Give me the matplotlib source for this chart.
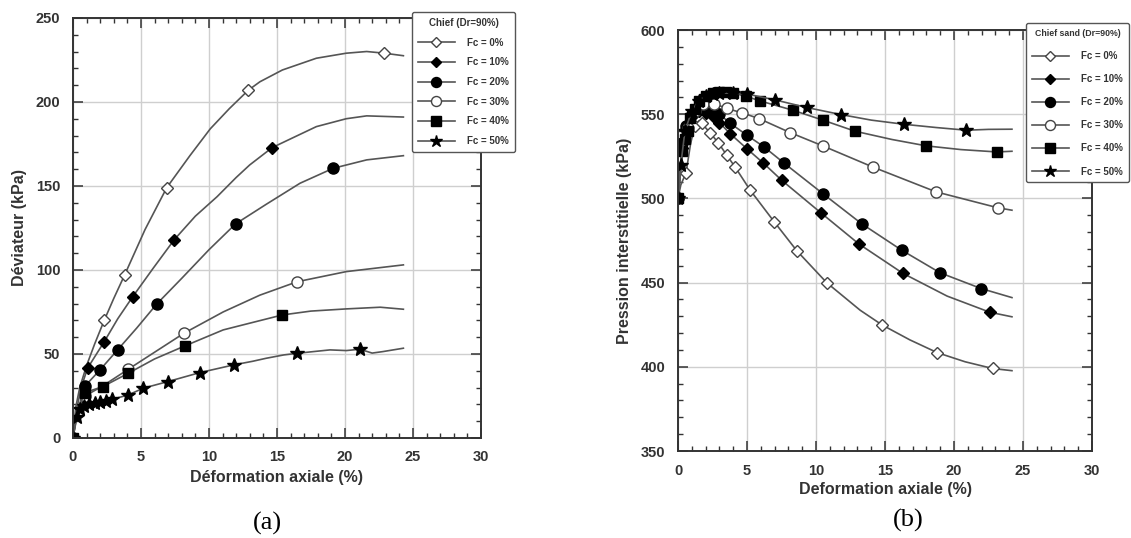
import matplotlib
matplotlib.use("Agg")
import matplotlib.pyplot as plt
from matplotlib.ticker import MultipleLocator

plt.rcParams['font.family'] = ['Liberation Sans', 'DejaVu Sans']
plt.rcParams['font.weight'] = 'bold'

labels = ['Fc = 0%', 'Fc = 10%', 'Fc = 20%', 'Fc = 30%', 'Fc = 40%', 'Fc = 50%']

# --- (a) deviator stress vs axial strain ---
q_x0 = [0, 0.2, 0.5, 1.0, 1.6, 2.3, 3.0, 3.8, 5.3, 6.9, 8.6, 10.1, 11.5, 12.9, 13.75, 15.4, 17.9, 20.1, 21.6, 22.9, 24.3]
q_y0 = [0, 18, 30, 43, 56, 70, 83, 97, 124, 149, 168, 184, 196, 207, 212, 219, 226, 229, 230, 229, 227.5]
q_m0 = [0, 5, 7, 9, 13, 19]

q_x10 = [0, 0.3, 0.6, 1.08, 2.28, 3.3, 4.39, 5.9, 7.45, 9.0, 10.6, 12.0, 13.0, 14.65, 16.0, 17.9, 20.1, 21.6, 24.3]
q_y10 = [0, 18, 30, 41.6, 57, 71, 84, 101, 118, 132, 143.6, 155, 162.5, 172.8, 178, 185.3, 190, 191.7, 191]
q_m10 = [0, 3, 4, 6, 8, 13]

q_x20 = [0, 0.3, 0.9, 1.99, 3.28, 4.7, 6.15, 8.0, 10.0, 11.96, 14.2, 16.7, 19.14, 21.6, 24.3]
q_y20 = [0, 15, 31, 40.5, 52.4, 65.5, 79.6, 95, 112, 127.4, 139, 151.6, 160.5, 165.5, 168]
q_m20 = [0, 2, 3, 4, 6, 9, 12]

q_x30 = [0, 0.3, 0.9, 2.2, 4.07, 6.0, 8.16, 11.05, 13.75, 16.5, 20.1, 24.3]
q_y30 = [0, 14, 25, 31, 40.9, 51, 62.3, 75, 85, 93, 99, 103]
q_m30 = [0, 2, 4, 6, 9]

q_x40 = [0, 0.3, 0.88, 2.18, 4.07, 6.0, 8.24, 11.05, 13.0, 15.4, 17.5, 20.1, 22.6, 24.3]
q_y40 = [0, 16, 27, 30.5, 38.5, 47, 54.8, 64.3, 68.3, 73.2, 75.5, 76.8, 77.8, 76.6]
q_m40 = [0, 2, 3, 4, 6, 9]

q_x50 = [0, 0.3, 0.5, 0.8, 1.2, 1.6, 2.0, 2.4, 2.9, 4.07, 5.17, 6.96, 9.34, 11.84, 13.2, 14.2, 15.5, 16.5, 18.9, 20.1, 21.1, 22.0, 22.8, 24.3]
q_y50 = [0, 12.7, 17, 19, 20, 21, 21.5, 22, 23, 25.6, 29.6, 33.5, 38.9, 43.5, 45.6, 47.4, 49.4, 50.4, 52.4, 52, 52.8, 50.5, 51.4, 53.4]
q_m50 = [0, 1, 2, 3, 4, 5, 6, 7, 8, 9, 10, 11, 12, 13, 17, 20]

# --- (b) pore pressure vs axial strain ---
u_x0 = [0, 0.2, 0.58, 0.9, 1.2, 1.5, 1.72, 2.32, 2.92, 3.53, 4.13, 5.22, 6.98, 8.6, 10.77, 13.2, 14.8, 16.8, 18.79, 20.8, 22.8, 24.2]
u_y0 = [500, 508, 515.2, 532, 543, 546, 544.5, 539, 533, 525.7, 518.7, 505, 486, 469, 450, 433.6, 424.8, 416, 408.4, 403, 399, 397.7]
u_m0 = [0, 2, 4, 6, 7, 8, 9, 10, 11, 12, 13, 14, 16, 18, 20]

u_x10 = [0, 0.3, 0.6, 1.0, 1.5, 2.0, 2.5, 3.0, 3.77, 4.98, 6.18, 7.51, 10.36, 13.1, 16.3, 19.5, 22.6, 24.2]
u_y10 = [500, 530, 541, 549, 552, 551, 549, 545, 538.5, 529.6, 521, 510.8, 491.4, 473, 455.5, 442, 432.4, 429.7]
u_m10 = [0, 1, 2, 3, 4, 5, 6, 7, 8, 9, 10, 11, 12, 13, 14, 16]

u_x20 = [0, 0.3, 0.6, 1.0, 1.5, 2.0, 2.5, 3.0, 3.8, 5.0, 6.23, 7.68, 10.5, 13.3, 16.2, 19.0, 21.96, 24.2]
u_y20 = [500, 533, 543, 550, 554, 555, 553, 550, 544.5, 537.5, 530.6, 521, 502.8, 485, 469.3, 455.8, 446.5, 441.1]
u_m20 = [0, 1, 2, 3, 4, 5, 6, 7, 8, 9, 10, 11, 12, 13, 14, 15, 16]

u_x30 = [0, 0.3, 0.7, 1.2, 1.8, 2.63, 3.53, 4.66, 5.87, 8.12, 10.49, 14.1, 18.7, 23.2, 24.2]
u_y30 = [500, 525, 542, 552, 556, 556.3, 553.4, 550.8, 547.4, 539.1, 531.2, 518.7, 503.9, 494.4, 493]
u_m30 = [0, 2, 3, 4, 5, 6, 7, 8, 9, 10, 11, 12, 13]

u_x40 = [0, 0.3, 0.5, 0.7, 0.9, 1.2, 1.5, 2.0, 2.5, 3.0, 3.5, 4.0, 4.93, 5.94, 8.31, 10.53, 12.83, 15.5, 18.0, 20.5, 23.1, 24.2]
u_y40 = [500, 528, 535, 540, 548, 553, 558, 561, 562.5, 563, 563, 562.5, 560.7, 557.9, 552.4, 546.4, 539.9, 535, 531.2, 529, 527.6, 528]
u_m40 = [0, 1, 2, 3, 4, 5, 6, 7, 8, 9, 10, 11, 12, 13, 14, 15, 16, 18, 20]

u_x50 = [0, 0.2, 0.5, 1.0, 1.5, 2.0, 2.5, 3.0, 4.0, 5.0, 7.03, 9.32, 11.8, 14.0, 16.4, 18.7, 20.9, 22.5, 24.2]
u_y50 = [500, 520, 540, 552, 558, 561, 562, 562.5, 562.5, 562, 558.5, 554, 549.8, 546.5, 544, 542.1, 540.5, 541, 541.1]
u_m50 = [0, 1, 2, 3, 4, 5, 6, 7, 8, 9, 10, 11, 12, 14, 16]

# marker style per fines content: (marker, size, filled)
styles = [('D', 6, False), ('D', 6, True), ('o', 8, True),
          ('o', 8, False), ('s', 7.5, True), ('*', 10, True)]

line_col = '#555555'


def draw_series(ax, xs, ys, marks):
    hs = []
    for x, y, m, lab, (mk, ms, filled) in zip(xs, ys, marks, labels, styles):
        h, = ax.plot(x, y, color=line_col, lw=1.2, marker=mk, markersize=ms,
                     markevery=m, markerfacecolor='black' if filled else 'white',
                     markeredgecolor='black' if filled else '#444444',
                     markeredgewidth=1.0, label=lab)
        hs.append(h)
    return hs


def style_axes(ax, ymin, ymax, ylab, xlab, xpad):
    ax.set_xlim(0, 30)
    ax.set_ylim(ymin, ymax)
    ax.xaxis.set_major_locator(MultipleLocator(5))
    ax.xaxis.set_minor_locator(MultipleLocator(1))
    ax.yaxis.set_major_locator(MultipleLocator(50))
    ax.yaxis.set_minor_locator(MultipleLocator(10))
    ax.grid(True, which='major', color='#cfcfcf', lw=1.0)
    ax.set_axisbelow(True)
    ax.tick_params(which='both', direction='in', top=True, right=True,
                   colors='#333333', labelcolor='#333333')
    ax.tick_params(which='major', length=7, width=1.1, labelsize=10.5, pad=9)
    ax.tick_params(which='minor', length=3.5, width=1.0)
    for s in ax.spines.values():
        s.set_color('#333333')
        s.set_linewidth(1.4)
    for t in ax.get_xticklabels() + ax.get_yticklabels():
        t.set_fontweight('bold')
    ax.set_ylabel(ylab, fontsize=11.5, fontweight='bold', color='#333333', labelpad=6)
    ax.set_xlabel(xlab, fontsize=11.5, fontweight='bold', color='#333333', labelpad=xpad)


def add_legend(ax, fig, title, anchor, spacing, tsize):
    leg = ax.legend(loc='upper left', bbox_to_anchor=anchor, bbox_transform=fig.transFigure,
                    title=title, fontsize=7, title_fontproperties={'size': tsize, 'weight': 'bold'},
                    handlelength=3.8, handletextpad=1.3, labelspacing=spacing, numpoints=1,
                    frameon=True, fancybox=True, borderpad=0.6, borderaxespad=0,
                    markerscale=0.9)
    leg.get_frame().set_edgecolor('#555555')
    leg.get_frame().set_linewidth(1.0)
    leg.get_frame().set_alpha(1)
    for t in leg.get_texts():
        t.set_color('#333333')
    leg.get_title().set_color('#333333')
    return leg


fig = plt.figure(figsize=(11.31, 5.38), dpi=100)
ax1 = fig.add_axes([0.0645, 0.186, 0.3607, 0.7807])
ax2 = fig.add_axes([0.5995, 0.1617, 0.366, 0.7825])

draw_series(ax1, [q_x0, q_x10, q_x20, q_x30, q_x40, q_x50],
            [q_y0, q_y10, q_y20, q_y30, q_y40, q_y50],
            [q_m0, q_m10, q_m20, q_m30, q_m40, q_m50])
style_axes(ax1, 0, 250, 'Déviateur (kPa)', 'Déformation axiale (%)', 4)

draw_series(ax2, [u_x0, u_x10, u_x20, u_x30, u_x40, u_x50],
            [u_y0, u_y10, u_y20, u_y30, u_y40, u_y50],
            [u_m0, u_m10, u_m20, u_m30, u_m40, u_m50])
style_axes(ax2, 350, 600, 'Pression interstitielle (kPa)', 'Deformation axiale (%)', 3)

add_legend(ax1, fig, 'Chief (Dr=90%)', (412 / 1131, 1 - 12 / 538), 1.0, 7)
add_legend(ax2, fig, 'Chief sand (Dr=90%)', (1026 / 1131, 1 - 23 / 538), 1.35, 6.3)

fig.text(267 / 1131, 1 - 523 / 538, '(a)', ha='center', va='center',
         fontsize=19, family='Liberation Serif', fontweight='normal')
fig.text(908 / 1131, 1 - 520 / 538, '(b)', ha='center', va='center',
         fontsize=19, family='Liberation Serif', fontweight='normal')

fig.savefig('out.png', dpi=100)
